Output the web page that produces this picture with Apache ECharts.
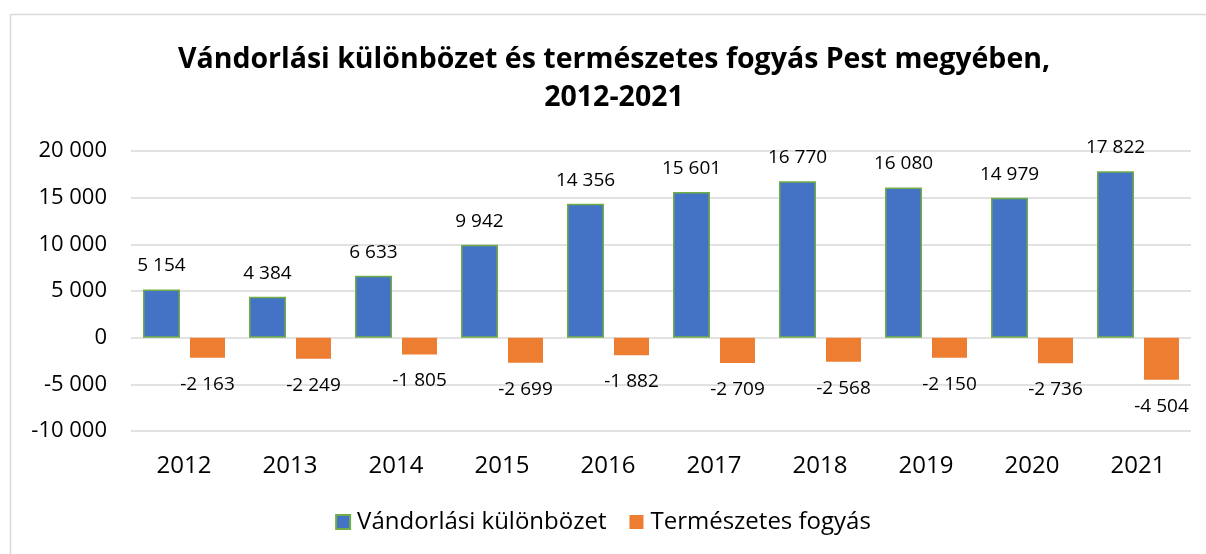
<!DOCTYPE html>
<html><head><meta charset="utf-8">
<script src="https://cdn.jsdelivr.net/npm/echarts@6/dist/echarts.min.js"></script>
<style>html,body{margin:0;padding:0;background:#fff}#c{width:1206px;height:554px}</style>
</head><body><div id="c"></div>
<script>
const years = ['2012','2013','2014','2015','2016','2017','2018','2019','2020','2021'];
const migration = [5154, 4384, 6633, 9942, 14356, 15601, 16770, 16080, 14979, 17822];
const naturalDecrease = [-2163, -2249, -1805, -2699, -1882, -2709, -2568, -2150, -2736, -4504];
const seriesNames = ['Vándorlási különbözet', 'Természetes fogyás'];
const titleLines = ['Vándorlási különbözet és természetes fogyás Pest megyében,', '2012-2021'];

const FONT = '"Open Sans", sans-serif';
function fmt(v){
  const s = Math.abs(v).toString().replace(/\B(?=(\d{3})+(?!\d))/g, ' ');
  return (v < 0 ? '-' : '') + s;
}
const chart = echarts.init(document.getElementById('c'));
chart.setOption({
  animation: false,
  backgroundColor: '#fff',
  graphic: [
    {type:'rect', left: 8, top: 12, shape:{width:1220, height:570}, style:{fill:'none', stroke:'#D9D9D9', lineWidth:1.5}, silent:true},
    {type:'text', x: 614, y: 41, silent:true, style:{text: titleLines.join('\n'), textAlign:'center', textVerticalAlign:'top',
      font: 'bold 28.5px "Open Sans", sans-serif', lineHeight: 38, fill:'#000'}}
  ],
  legend: {
    bottom: 15, left: 'center', itemWidth: 14, itemHeight: 14, itemGap: 23,
    icon: 'rect',
    textStyle: {fontFamily: FONT, fontSize: 24, color: '#000', padding: [0, 0, 0, 2]},
    data: seriesNames
  },
  grid: {left: 131, right: 15, top: 151, bottom: 123},
  xAxis: {
    type: 'category', data: years,
    axisLine: {show: false}, axisTick: {show: false},
    axisLabel: {fontFamily: FONT, fontSize: 24, color: '#000', margin: 23}
  },
  yAxis: {
    type: 'value', min: -10000, max: 20000, interval: 5000,
    axisLine: {show: false}, axisTick: {show: false},
    splitLine: {lineStyle: {color: '#D9D9D9', width: 1.5}},
    axisLabel: {fontFamily: FONT, fontSize: 22, color: '#000', margin: 24, formatter: fmt}
  },
  series: [
    {
      name: seriesNames[0], type: 'bar', data: migration,
      barWidth: 37, barGap: '27%',
      itemStyle: {color: '#4472C4', borderColor: '#70AD47', borderWidth: 1.5},
      label: {show: true, position: 'outside', distance: 14, formatter: p => fmt(p.value),
        fontFamily: FONT, fontSize: 19, color: '#000'}
    },
    {
      name: seriesNames[1], type: 'bar', data: naturalDecrease,
      barWidth: 35,
      itemStyle: {color: '#ED7D31'},
      label: {show: true, position: 'outside', distance: 17, formatter: p => fmt(p.value),
        fontFamily: FONT, fontSize: 19, color: '#000'}
    }
  ]
});
</script></body></html>
